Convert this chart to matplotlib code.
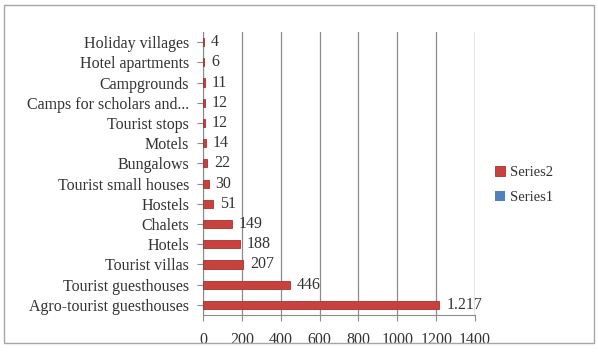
import numpy as np
import matplotlib.pyplot as plt
from matplotlib.patches import Rectangle

categories = ['Agro-tourist guesthouses', 'Tourist guesthouses', 'Tourist villas', 'Hotels',
              'Chalets', 'Hostels', 'Tourist small houses', 'Bungalows', 'Motels',
              'Tourist stops', 'Camps for scholars and...', 'Campgrounds',
              'Hotel apartments', 'Holiday villages']
series2 = [1217, 446, 207, 188, 149, 51, 30, 22, 14, 12, 12, 11, 6, 4]
series1 = [0] * len(categories)
labels = ['1.217', '446', '207', '188', '149', '51', '30', '22', '14', '12', '12', '11', '6', '4']

plt.rcParams['font.family'] = ['Liberation Serif', 'DejaVu Serif']

fig = plt.figure(figsize=(5.98, 3.53), dpi=100)
ax = fig.add_axes([203 / 598, 1 - 315 / 353, 272 / 598, 283 / 353])

y = np.arange(len(categories))
ax.barh(y, series2, height=0.4, color='#C8413D', edgecolor='#A33330', linewidth=0.6, zorder=3, label='Series2')
ax.barh(y, series1, height=0.4, color='#4F81BD', zorder=3, label='Series1')

for yi, v, t in zip(y, series2, labels):
    ax.text(v + 35, yi, t, va='center', ha='left', fontsize=11.5, color='#333333', zorder=4)

ax.set_xlim(0, 1400)
ax.set_ylim(-0.5, len(categories) - 0.5)
ax.set_xticks(range(0, 1401, 200))
ax.set_yticks(y)
ax.set_yticklabels(categories)
ax.tick_params(axis='y', labelsize=11.5, colors='#8C8C8C', length=4, width=0.8, pad=6)
ax.tick_params(axis='x', labelsize=11.5, colors='#8C8C8C', length=4, width=0.8, pad=8)
for lbl in ax.get_xticklabels() + ax.get_yticklabels():
    lbl.set_color('#333333')

ax.grid(axis='x', color='#8C8C8C', linewidth=0.9, zorder=0)
for s in ['top', 'right']:
    ax.spines[s].set_visible(False)
ax.spines['left'].set_color('#8C8C8C')
ax.spines['bottom'].set_color('#8C8C8C')
ax.axvline(1400, color='#8C8C8C', linewidth=0.9, zorder=0)

handles, names = ax.get_legend_handles_labels()
leg = fig.legend(handles, names, loc='center left', bbox_to_anchor=(482 / 598, 1 - 185 / 353),
                 frameon=False, fontsize=10.5, handlelength=0.7, handleheight=0.7,
                 handletextpad=0.3, labelspacing=0.8)
for t in leg.get_texts():
    t.set_color('#333333')

fig.patches.append(Rectangle((4 / 598, 1 - 343 / 353), 590 / 598, 338 / 353,
                             transform=fig.transFigure, fill=False,
                             edgecolor='#A6A6A6', linewidth=1))

fig.savefig('out.png', dpi=100)
